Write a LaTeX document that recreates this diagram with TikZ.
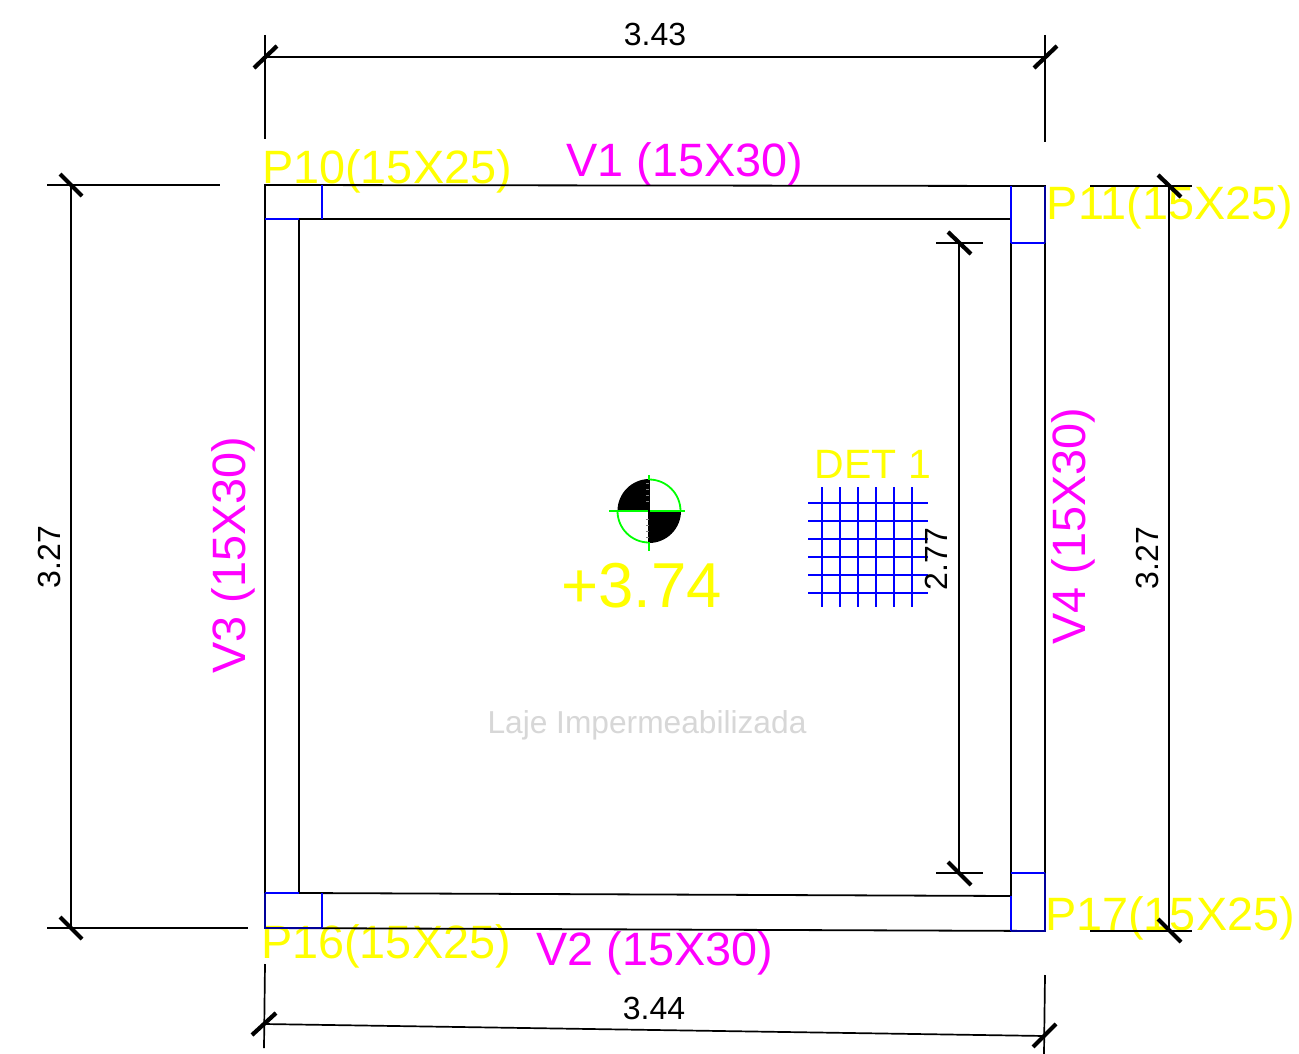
\documentclass[tikz,border=0pt]{standalone}
\usepackage{fontspec}
\setmainfont{Liberation Sans}
\definecolor{lbl}{RGB}{255,255,0}
\definecolor{beam}{RGB}{255,0,255}
\definecolor{col}{RGB}{0,0,255}
\definecolor{lvl}{RGB}{0,255,0}
\definecolor{note}{RGB}{215,215,215}
\tikzset{
  wall/.style={draw=black,line width=1.8pt},
  column/.style={draw=col,line width=1.8pt},
  coledge/.style={draw=black!40!col,line width=1.8pt},
  dimline/.style={draw=black,line width=1.7pt},
  slash/.style={draw=black,line width=4.2pt},
  gridline/.style={draw=col,line width=2pt},
  txt/.style={inner sep=0pt,anchor=base},
  collabel/.style={txt,text=lbl,font=\fontsize{46.8}{46.8}\selectfont},
  beamlabel/.style={txt,text=beam,font=\fontsize{46.8}{46.8}\selectfont},
  dimlabel/.style={txt,text=black,font=\fontsize{32}{32}\selectfont},
}
\begin{document}
\begin{tikzpicture}[x=1pt,y=-1pt]
\useasboundingbox (0,0) rectangle (1299,1054);
\fill[white] (0,0) rectangle (1299,1054);

% labels under the lines
\node[collabel] (p10) at (387,183) {P10(15X25)};
\node[collabel] (p11) at (1170,219) {P11(15X25)};
\node[collabel] (p16) at (386,958) {P16(15X25)};
\node[collabel] (p17) at (1170,930) {P17(15X25)};
\node[beamlabel] (v1) at (685,176) {V1 (15X30)};
\node[beamlabel] (v2) at (655,965) {V2 (15X30)};
\node[beamlabel,rotate=90] (v3) at (245,555) {V3 (15X30)};
\node[beamlabel,rotate=90] (v4) at (1085,526) {V4 (15X30)};
\node[txt,text=lbl,font=\fontsize{63.5}{63.5}\selectfont] (lev) at (641.5,607) {+3.74};
\node[txt,text=lbl,font=\fontsize{41}{41}\selectfont] (det) at (873,478) {DET 1};
\node[txt,text=note,font=\fontsize{31.7}{32}\selectfont] (laje) at (647,733) {Laje Impermeabilizada};

% walls
\path[wall] (265,185) -- (1045,186) -- (1045,931) -- (265,928) -- cycle;
\path[wall] (299,219) -- (1011,219);
\path[wall] (299,219) -- (299,893) -- (1011,896);
\path[wall] (1011,243) -- (1011,896);

% columns
\path[column] (322,185) -- (322,219);
\path[column] (322,893) -- (322,928);
\path[column] (1011,186) -- (1011,219);
\path[column] (1011,219) -- (1011,243);
\path[column] (1011,896) -- (1011,931);
\path[column] (1011,243) -- (1045,243);
\path[column] (1011,873) -- (1045,873);
\path[column] (265,219) -- (299,219);
\path[column] (265,893) -- (299,893);
\path[coledge] (265,893) -- (265,928) -- (322,928);
\path[coledge] (1011,931) -- (1045,931) -- (1045,873);
\path[coledge] (1045,186) -- (1045,243);

% top dimension
\path[dimline] (265,57) -- (1045,57);
\path[dimline] (265,35) -- (265,139);
\path[dimline] (1045,35) -- (1045,142);
\path[slash] (254,68) -- (277,46);
\path[slash] (1034,68) -- (1057,46);
\node[dimlabel] (d1) at (655,46) {3.43};

% left dimension
\path[dimline] (71,185) -- (71,928);
\path[dimline] (47,185) -- (220,185);
\path[dimline] (47,928) -- (248,928);
\path[slash] (60,174) -- (82,196);
\path[slash] (60,917) -- (82,939);
\node[dimlabel,rotate=90] (d2) at (60,557) {3.27};

% right dimension
\path[dimline] (1169,186) -- (1169,931);
\path[dimline] (1090,186) -- (1192,186);
\path[dimline] (1090,931) -- (1192,931);
\path[slash] (1158,175) -- (1181,197);
\path[slash] (1158,919) -- (1181,942);
\node[dimlabel,rotate=90] (d3) at (1158,558) {3.27};

% inner dimension
\path[dimline] (959,243) -- (959,873);
\path[dimline] (936,243) -- (983,243);
\path[dimline] (936,873) -- (983,873);
\path[slash] (948,232) -- (971,254);
\path[slash] (948,862) -- (971,885);

% bottom dimension
\path[dimline] (264,1024) -- (1045,1036);
\path[dimline] (265,964) -- (264,1048);
\path[dimline] (1045,975) -- (1044,1054);
\path[slash] (252,1035) -- (276,1013);
\path[slash] (1033,1047) -- (1056,1024);
\node[dimlabel] (d4) at (654,1019) {3.44};

% hatch grid
\foreach \gx in {822,840,858,876,894,912} \path[gridline] (\gx,487) -- (\gx,607);
\foreach \gy in {503,521,539,557,575,593} \path[gridline] (808,\gy) -- (928,\gy);
\node[dimlabel,rotate=90] (d5) at (947,559) {2.77};

% level symbol
\fill[black] (649,511) -- (617.5,511) arc[start angle=180,end angle=270,radius=32] -- cycle;
\fill[black] (649,511) -- (681,511) arc[start angle=0,end angle=90,radius=32] -- cycle;
\draw[lvl,line width=1.8pt] (680.5,511) arc[start angle=0,end angle=-90,radius=31.5];
\draw[lvl,line width=1.8pt] (617.5,511) arc[start angle=180,end angle=90,radius=31.5];
\draw[lvl,line width=1.8pt] (609,511) -- (685,511) (649,475) -- (649,480) (649,542) -- (649,551);
\draw[black,line width=1.2pt] (649,480) -- (649,542);
\foreach \ty in {-28,-22,-16,-10,8,14,20,26} \draw[black!50,line width=0.8pt] (646,511+\ty) -- (649,511+\ty);
\end{tikzpicture}
\end{document}
